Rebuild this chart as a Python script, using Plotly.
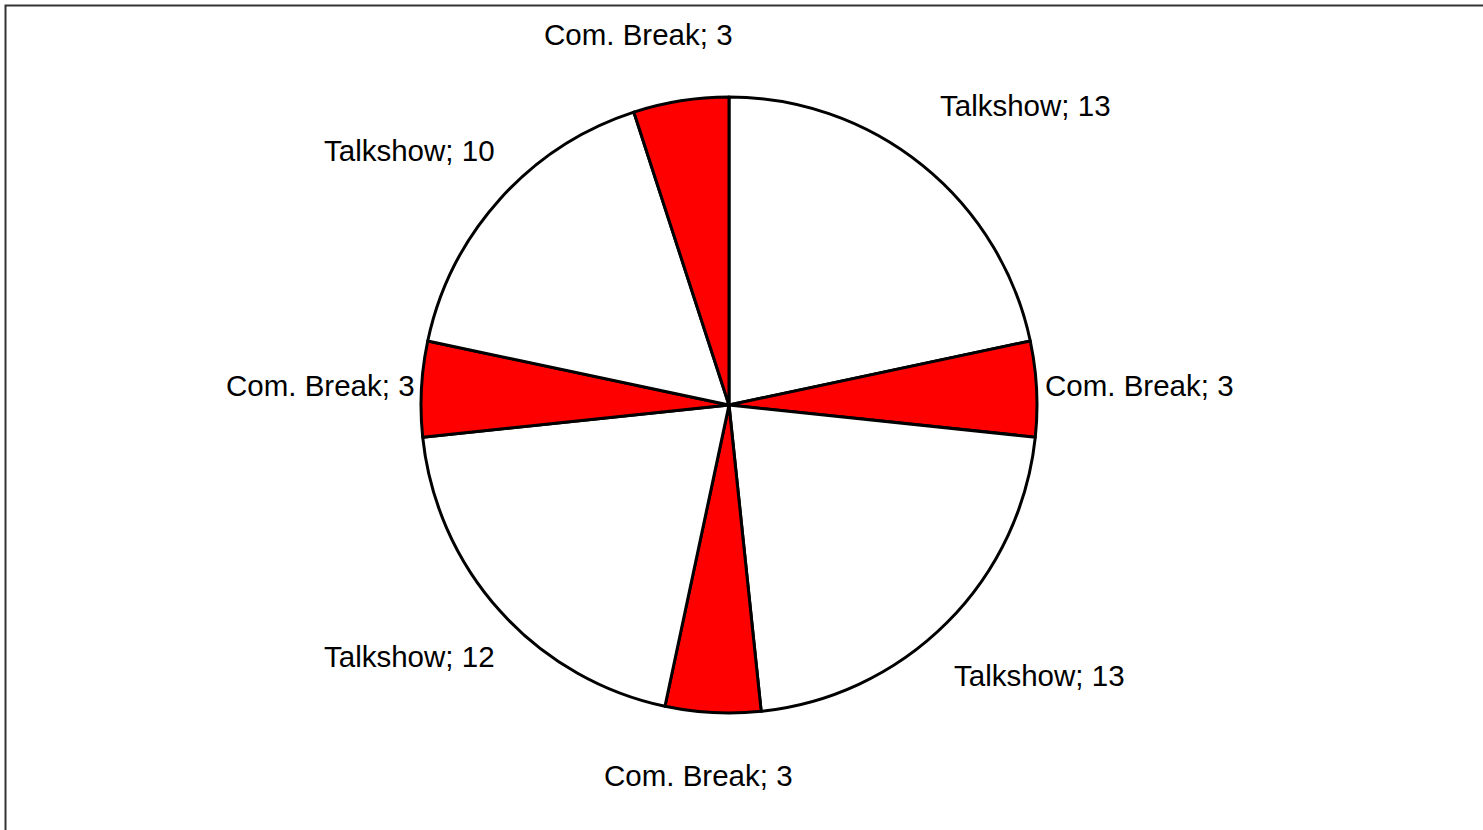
import plotly.graph_objects as go

# Data
segments = ["Talkshow", "Com. Break", "Talkshow", "Com. Break",
            "Talkshow", "Com. Break", "Talkshow", "Com. Break"]
minutes = [13, 3, 13, 3, 12, 3, 10, 3]
slice_ids = [f"{s} {i+1}" for i, s in enumerate(segments)]
colors = ["#FFFFFF" if s == "Talkshow" else "#FF0000" for s in segments]

# Label placement (pixels on page): x, y, anchor
label_pos = [(938, 105, "left"), (1043, 385, "left"), (952, 675, "left"),
             (698, 775, "center"), (497, 656, "right"), (417, 385, "right"),
             (497, 150, "right"), (638, 35, "center")]

W, H = 1483, 830
cx, cy, r = 729, 405, 308
FONT = "Liberation Sans, Arial, sans-serif"

fig = go.Figure(go.Pie(
    labels=slice_ids,
    values=minutes,
    textinfo="none",
    sort=False,
    direction="clockwise",
    rotation=0,
    marker=dict(colors=colors, line=dict(color="#000000", width=3)),
    showlegend=False,
    domain=dict(x=[(cx - r) / W, (cx + r) / W],
                y=[(H - cy - r) / H, (H - cy + r) / H]),
    hoverinfo="none",
))

for seg, val, (px, py, anc) in zip(segments, minutes, label_pos):
    fig.add_annotation(
        text=f"{seg}; {val}", xref="paper", yref="paper",
        x=px / W, y=(H - py) / H, xanchor=anc, yanchor="middle",
        showarrow=False,
        font=dict(family=FONT, size=29.5, color="#000000"),
    )

fig.add_shape(type="rect", xref="paper", yref="paper",
              x0=5.5 / W, x1=1.02, y0=-0.02, y1=(H - 5.5) / H,
              line=dict(color="#333333", width=2), fillcolor="rgba(0,0,0,0)")

fig.update_layout(
    width=W, height=H,
    margin=dict(l=0, r=0, t=0, b=0),
    paper_bgcolor="#FFFFFF",
    plot_bgcolor="#FFFFFF",
)

fig.write_html("out.html", config={"displayModeBar": False},
               post_script="document.body.style.margin='0';")
